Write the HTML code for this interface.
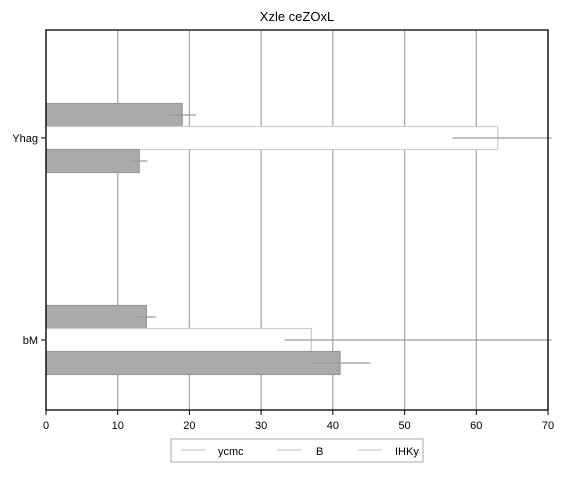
<!DOCTYPE html>
<html><head><meta charset="utf-8"><style>
body{margin:0;background:#fff;font-family:"Liberation Sans",sans-serif;}
svg text{font-family:"Liberation Sans",sans-serif;font-size:11px;fill:#000;}
</style></head><body>
<svg id="c" width="568" height="497"></svg>
<script>
const categories=["Yhag","bM"];
const seriesNames=["ycmc","B","IHKy"];
const values=[[19,63,13],[14,37,41]];
const errLow=[[17,56.7,11.7],[12.6,33.3,37]];
const errHigh=[[20.9,70.5,14.1],[15.3,70.5,45.2]];
const ticks=[0,10,20,30,40,50,60,70];
const NS="http://www.w3.org/2000/svg";
const svg=document.getElementById('c');
const L=46,R=548,T=30,B=410;
const x=v=>L+(v-0)/(70-0)*(R-L);
const catCenter=[138,340];
const bh=23;
function mk(t,a,p){const e=document.createElementNS(NS,t);for(const k in a)e.setAttribute(k,a[k]);(p||svg).appendChild(e);return e;}
ticks.forEach(t=>{
 const g=mk('line',{x1:x(t),x2:x(t),y1:T,y2:B,stroke:'#aaa','stroke-width':1.3});
 
 
 const tk=mk('line',{x1:x(t),x2:x(t),y1:B,y2:B+5,stroke:'#000'});
 
 
 const tl=mk('text',{x:x(t),y:B+19,'text-anchor':'middle'});tl.textContent=t;
 
 
});
const fills=['#aaa','#fff','#aaa'],strokes=['#999','#ccc','#999'];
categories.forEach((c,ci)=>{
 const cy=catCenter[ci];
 const lab=mk('text',{x:L-8,y:cy+4,'text-anchor':'end'});lab.textContent=c;
 
 
 const yt=mk('line',{x1:L-5,x2:L,y1:cy,y2:cy,stroke:'#000'});
 
 
 values[ci].forEach((v,si)=>{
  const y0=cy-1.5*bh+si*bh;
  const r=mk('rect',{x:L,y:y0,width:x(v)-L,height:bh,fill:fills[si],stroke:strokes[si],'stroke-width':1.2});
  
  
 });
 values[ci].forEach((v,si)=>{
  const ym=cy-1.5*bh+si*bh+bh/2;
  const e=mk('line',{x1:x(errLow[ci][si]),x2:x(errHigh[ci][si]),y1:ym,y2:ym,stroke:'#999','stroke-width':1.3});
  
  
 });
});
const fr=mk('rect',{x:L,y:T,width:R-L,height:B-T,fill:'none',stroke:'#000','stroke-width':1.3});


const ti=mk('text',{x:297,y:21,'text-anchor':'middle','font-size':13});ti.textContent='Xzle ceZOxL';ti.style.fontSize='13px';


const lg=mk('rect',{x:171,y:439,width:252,height:23,fill:'#fff',stroke:'#aaa'});


const lx=[181,277,358],tx=[218,316,395];
seriesNames.forEach((s,i)=>{
 const l=mk('line',{x1:lx[i],x2:lx[i]+24,y1:450,y2:450,stroke:'#ccc','stroke-width':1.3});
 
 
 const t=mk('text',{x:tx[i],y:455});t.textContent=s;
 
 
});
</script>
</body></html>
